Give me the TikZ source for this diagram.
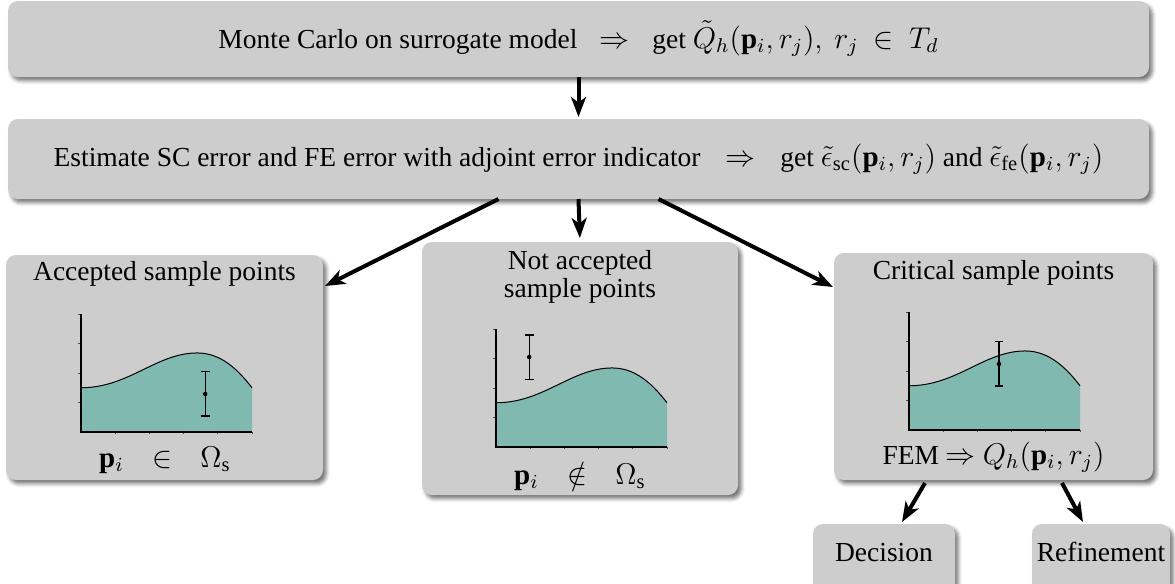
\documentclass[tikz,border=0pt]{standalone}
\usepackage{fontspec}
\setmainfont{Liberation Serif}
\DeclareMathSizes{11}{11.6}{8.2}{6.2}
\usetikzlibrary{arrows.meta,calc,shadows.blur}
\definecolor{boxgray}{RGB}{205,205,205}
\definecolor{tealfill}{RGB}{127,185,175}
\tikzset{
  pics/curveplot/.style n args={2}{code={
    \begin{scope}[x=13.68pt,y=11.8pt]
      \fill[tealfill] (0,0) -- (0,1.5) .. controls (1.4,1.5) and (2.2,2.68) .. (3.4,2.68)
        .. controls (4.1,2.68) and (4.6,2.1) .. (5,1.5) -- (5,0) -- cycle;
      \draw[line width=0.4pt] (0,1.5) .. controls (1.4,1.5) and (2.2,2.68) .. (3.4,2.68)
        .. controls (4.1,2.68) and (4.6,2.1) .. (5,1.5);
      \draw[gray!60!black, line width=0.25pt]
        (0,1) -- ++(-0.08,0) (0,2) -- ++(-0.08,0) (0,3) -- ++(-0.08,0) (0,4) -- ++(-0.08,0)
        (1,0) -- ++(0,-0.08) (2,0) -- ++(0,-0.08) (3,0) -- ++(0,-0.08) (4,0) -- ++(0,-0.08) (5,0) -- ++(0,-0.08);
      \draw[line width=0.45pt] (0,4) -- (0,0) -- (5,0);
      \draw[line width=0.5pt] (#1,#2-0.75) -- (#1,#2+0.75)
        (#1-0.13,#2-0.75) -- (#1+0.13,#2-0.75) (#1-0.13,#2+0.75) -- (#1+0.13,#2+0.75);
      \fill (#1,#2) circle[radius=0.9pt];
    \end{scope}
  }}
}
\begin{document}
\begin{tikzpicture}[x=0.4pt,y=-0.4pt,
  font=\fontsize{11}{11.2}\selectfont,
  card/.style={fill=boxgray, rounded corners=4pt, inner sep=0pt, outer sep=0pt,
    blur shadow={shadow xshift=1.3pt, shadow yshift=-1.5pt, shadow blur radius=1.5pt, shadow opacity=55}},
  flow/.style={line width=1.6pt, -{Stealth[length=8pt,width=6pt,inset=2.2pt]}},
  lbl/.style={inner sep=0pt, anchor=base, align=center}
]
\useasboundingbox (0,0) rectangle (1175,583);
\clip (0,0) rectangle (1175,583);

% boxes
\node[card, minimum width={1141*0.4pt}, minimum height={76*0.4pt}] (b1) at (578.5,39) {};
\node[card, minimum width={1141*0.4pt}, minimum height={80*0.4pt}] (b2) at (578.5,159) {};
\node[card, minimum width={317*0.4pt}, minimum height={225*0.4pt}] (b3) at (164.5,367.5) {};
\node[card, minimum width={316*0.4pt}, minimum height={253*0.4pt}] (b4) at (580,368.5) {};
\node[card, minimum width={319*0.4pt}, minimum height={227*0.4pt}] (b5) at (993.5,366.5) {};
\node[card, minimum width={142*0.4pt}, minimum height={76*0.4pt}] (dec) at (884,562) {};
\node[card, minimum width={138*0.4pt}, minimum height={76*0.4pt}] (ref) at (1101,562) {};

% texts
\node[lbl] (t1) at (578.5,48) {Monte Carlo on surrogate model\hspace{9pt}$\Rightarrow$\hspace{9pt}get $\tilde{Q}_h(\mathbf{p}_i,r_j),\ r_j\ \in\ T_d$};
\node[lbl] (t2) at (578.5,166) {Estimate SC error and FE error with adjoint error indicator\hspace{10pt}$\Rightarrow$\hspace{10pt}get $\tilde{\epsilon}_{\mathrm{sc}}(\mathbf{p}_i,r_j)$ and $\tilde{\epsilon}_{\mathrm{fe}}(\mathbf{p}_i,r_j)$};
\node[lbl] (t3) at (164.5,280) {Accepted sample points};
\node[lbl] (t4) at (580,297) {Not accepted\\sample points};
\node[lbl] (t5) at (993.5,279) {Critical sample points};
\node[lbl] (l3) at (165,467) {$\mathbf{p}_i\hspace{8pt}\in\hspace{8pt}\Omega_{\mathrm{s}}$};
\node[lbl] (l4) at (580,484) {$\mathbf{p}_i\hspace{8pt}\notin\hspace{8pt}\Omega_{\mathrm{s}}$};
\node[lbl] (l5) at (993.5,464) {FEM $\Rightarrow$ $Q_h(\mathbf{p}_i,r_j)$};
\node[lbl] (dt) at (884,561) {Decision};
\node[lbl] (rt) at (1101,561) {Refinement};

% plots
\pic at (81,432) {curveplot={3.63}{1.29}};
\pic at (496,447) {curveplot={0.97}{3.05}};
\pic at (909,430) {curveplot={2.63}{2.24}};

% connectors
\draw[flow, shorten >=0.8pt] (b1.south) -- (b2.north);
\draw[flow] ($(b2.south)+(-80,0)$) -- ($(b3.north east)+(2,31)$);
\draw[flow, shorten >=1.6pt] (b2.south) -- (b4.north);
\draw[flow] ($(b2.south)+(80,0)$) -- ($(b5.north west)+(-1,34)$);
\draw[flow] ($(b5.south)+(-68.5,3)$) -- ($(dec.north)+(18,-2)$);
\draw[flow] ($(b5.south)+(68.5,3)$) -- ($(ref.north)+(-18,-2)$);
\end{tikzpicture}
\end{document}
